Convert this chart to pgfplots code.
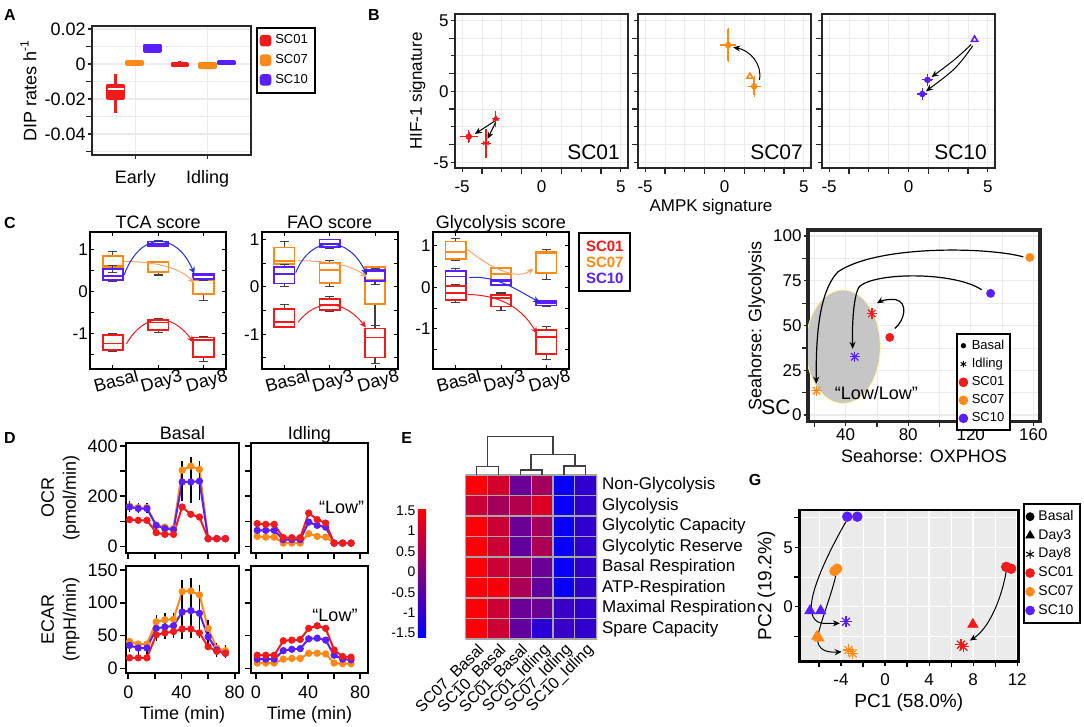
\documentclass[border=0pt]{standalone}
\usepackage{fontspec}
\setmainfont{Liberation Sans}
\usepackage{pgfplots}
\pgfplotsset{compat=1.18}
\usepgfplotslibrary{statistics}
\usetikzlibrary{arrows.meta}

\definecolor{cred}{HTML}{F21B1B}
\definecolor{corange}{HTML}{FF8A17}
\definecolor{cblue}{HTML}{5A1FFF}
\definecolor{gridgray}{HTML}{EBEBEB}
\definecolor{aorange}{HTML}{F5A477}
\definecolor{ablue}{HTML}{2030D8}

\tikzset{arr/.style={-{Stealth[length=3.5pt,width=3pt]}, line width=0.5pt}}

\pgfplotsset{
  every axis/.append style={
    scale only axis, anchor=north west,
    /pgf/number format/assume math mode=true,
    tick label style={font=\fontsize{8.5}{10}\selectfont, inner sep=1pt},
    label style={font=\fontsize{8.5}{10}\selectfont},
  },
  mk/.style={legend image code/.code={\draw[mark repeat=2, mark phase=2, ##1] plot coordinates {(0cm,0cm) (0.13cm,0cm) (0.26cm,0cm)};}},
  gg/.style={
    axis line style={black!85, line width=1pt},
    tick pos=left, tick align=outside, major tick length=2pt,
    tick style={black!85, line width=0.6pt},
    grid=both, major grid style={gridgray, line width=0.6pt},
    minor grid style={gridgray, line width=0.35pt},
  },
  bf/.style={gg, width=86.5pt, height=77pt,
    xmin=-5.45, xmax=5.45, ymin=-5.4, ymax=5.45,
    xtick={-5,-2.5,0,2.5,5}, xticklabels={-5,,0,,5}, minor xtick={-3.75,-1.25,1.25,3.75},
    ytick={-5,-2.5,0,2.5,5}, yticklabels={-5,,0,,5}, minor ytick={-3.75,-1.25,1.25,3.75},
    xticklabel style={yshift=-3pt},
  },
  ebxy/.style={error bars/.cd, x dir=both, x explicit, y dir=both, y explicit,
    error bar style={line width=0.7pt}, error mark options={line width=0.6pt, mark size=0.9pt}},
  ml/.style={
    width=68pt, height=68.5pt,
    axis line style={black, line width=1pt},
    tick align=inside, major tick length=2pt, minor tick length=2pt,
    tick style={black, line width=0.5pt},
    xmin=0.5, xmax=3.5, xtick={1,2,3}, xticklabels={Basal,Day3,Day8},
    xticklabel style={rotate=15, anchor=north, yshift=-1.5pt, font=\fontsize{9}{10}\selectfont},
    ytick={-1,0,1}, minor ytick={-1.5,-0.5,0.5},
    every axis title/.style={at={(0.5,1)}, anchor=base, yshift=2pt, font=\fontsize{9}{10}\selectfont},
    boxplot/draw direction=y,
    boxplot/box extend=0.45, boxplot/whisker extend=0.2,
    boxplot/every whisker/.style={black!75, line width=0.6pt},
  },
  gp/.style={
    axis line style={black, line width=1pt},
    tick pos=left, tick align=outside, major tick length=3pt,
    tick style={black, line width=0.8pt},
    xtick={0,20,40,60,80}, xticklabels={0,,40,,80},
    tick label style={font=\fontsize{9}{10}\selectfont},
    label style={font=\fontsize{9}{11}\selectfont},
    xticklabel style={yshift=-2pt},
    every axis title/.style={at={(0.5,1)}, anchor=base, yshift=1.8pt, font=\fontsize{9}{10}\selectfont},
    every axis plot/.append style={line width=1pt, mark=*, mark size=1.3pt},
  },
  eby/.style={error bars/.cd, y dir=both, y explicit, error bar style={black, line width=0.7pt}, error mark=none},
}

\newcommand{\abox}[8]{\addplot[forget plot, draw=#1, fill=#1, line width=1.4pt, line join=round,
  boxplot prepared={draw position=#2, lower whisker=#3, lower quartile=#4, median=#5, upper quartile=#6, upper whisker=#7},
  boxplot/every median/.style={#8}] coordinates {};}
\newcommand{\cbox}[7]{\addplot[forget plot, #1, line width=0.9pt,
  boxplot prepared={draw position=#2, lower whisker=#3, lower quartile=#4, median=#5, upper quartile=#6, upper whisker=#7}] coordinates {};}

\begin{document}
\fontsize{8.5}{10}\selectfont
\begin{tikzpicture}
\useasboundingbox (0,0) rectangle (542pt,-363.5pt);

% panel letters
\begin{scope}[every node/.style={font=\bfseries\fontsize{8}{9}\selectfont}]
\node at (5pt,-7.5pt) {A};
\node at (187pt,-7.5pt) {B};
\node at (5pt,-111.35pt) {C};
\node at (5pt,-219pt) {D};
\node at (203.35pt,-219.15pt) {E};
\node at (377.5pt,-240pt) {G};
\end{scope}

% ---------------- A
\begin{axis}[gg, at={(46pt,-13pt)}, width=79.5pt, height=64.5pt,
  xmin=0.4, xmax=2.6, ymin=-0.052, ymax=0.0217,
  xtick={1,2}, xticklabels={Early,Idling},
  ytick={-0.04,-0.02,0,0.02}, yticklabels={-0.04,-0.02,0,0.02},
  minor ytick={-0.05,-0.03,-0.01,0.01}, scaled y ticks=false,
  tick label style={font=\fontsize{9}{10}\selectfont},
  xticklabel style={yshift=-4.5pt},
  ylabel={DIP rates h\textsuperscript{-1}},
  label style={font=\fontsize{9}{10}\selectfont},
  legend style={at={(1.031,0.992)}, anchor=north west, draw=black, line width=0.8pt,
    font=\fontsize{6.5}{7}\selectfont, inner sep=1.5pt, row sep=0pt},
  legend cell align=left,
  boxplot/draw direction=y,
  boxplot/whisker extend=0, boxplot/box extend=0.22,
  boxplot/every whisker/.style={line width=1.6pt},
]
\abox{cred}{0.726}{-0.0278}{-0.0198}{-0.0141}{-0.0120}{-0.0057}{white, line width=1pt}
\abox{corange}{0.986}{-0.0008}{-0.0005}{0.0004}{0.0013}{0.0022}{}
\abox{cblue}{1.233}{0.0065}{0.0072}{0.0090}{0.0108}{0.0115}{}
\abox{cred}{1.616}{-0.0015}{-0.0012}{-0.0005}{0.0003}{0.0018}{}
\abox{corange}{2.0}{-0.0025}{-0.0018}{-0.0008}{0.0005}{0.0012}{}
\abox{cblue}{2.26}{-0.0002}{0.0}{0.0006}{0.0012}{0.0016}{}
\addlegendimage{legend image code/.code={\fill[cred, rounded corners=1.2pt] (0pt,-2.5pt) rectangle (5pt,2.5pt);}}
\addlegendentry{SC01}
\addlegendimage{legend image code/.code={\fill[corange, rounded corners=1.2pt] (0pt,-2.5pt) rectangle (5pt,2.5pt);}}
\addlegendentry{SC07}
\addlegendimage{legend image code/.code={\fill[cblue, rounded corners=1.2pt] (0pt,-2.5pt) rectangle (5pt,2.5pt);}}
\addlegendentry{SC10}
\end{axis}

% ---------------- B
\begin{axis}[bf, at={(227.5pt,-7pt)}, ylabel={HIF-1 signature}]
\addplot[cred, only marks, mark=*, mark size=1.4pt, ebxy] coordinates {(-4.58,-3.19) +- (0.45,0.35)};
\addplot[cred, only marks, mark=triangle*, mark size=1.6pt, ebxy] coordinates {(-2.88,-1.93) +- (0.15,0.44)};
\addplot[cred, only marks, mark=asterisk, mark size=1.8pt, ebxy] coordinates {(-3.5,-3.65) +- (0.2,0.9)};
\draw[arr] (axis cs:-2.95,-2.1) -- (axis cs:-4.2,-3.0);
\draw[arr] (axis cs:-2.9,-2.2) -- (axis cs:-3.4,-3.35);
\node[anchor=south east, font=\fontsize{10.5}{12}\selectfont, inner sep=0pt] at (rel axis cs:0.955,0.05) {SC01};
\end{axis}
\begin{axis}[bf, at={(319pt,-7pt)}, yticklabels={,,,,}]
\addplot[corange, only marks, mark=*, mark size=1.4pt, ebxy] coordinates {(0.23,3.26) +- (0.4,1.1)};
\addplot[corange, only marks, mark=triangle, mark size=1.7pt, line width=0.8pt] coordinates {(1.6,1.05)};
\addplot[corange, only marks, mark=*, mark size=1.4pt, ebxy] coordinates {(1.87,0.35) +- (0.3,0.6)};
\draw[arr] (axis cs:2.2,0.8) .. controls (axis cs:2.4,1.9) and (axis cs:1.6,2.9) .. (axis cs:0.55,3.1);
\node[anchor=south east, font=\fontsize{10.5}{12}\selectfont, inner sep=0pt] at (rel axis cs:0.955,0.05) {SC07};
\end{axis}
\begin{axis}[bf, at={(411pt,-7pt)}, yticklabels={,,,,}]
\addplot[cblue, only marks, mark=triangle, mark size=1.8pt, line width=0.8pt] coordinates {(4.16,3.65)};
\addplot[cblue, only marks, mark=*, mark size=1.4pt, ebxy] coordinates {(1.2,0.81) +- (0.25,0.3)};
\addplot[cblue, only marks, mark=*, mark size=1.4pt, ebxy] coordinates {(0.87,-0.19) +- (0.2,0.3)};
\draw[arr] (axis cs:3.95,3.3) .. controls (axis cs:3.0,2.3) .. (axis cs:1.45,1.0);
\draw[arr] (axis cs:4.05,3.2) .. controls (axis cs:3.0,1.6) .. (axis cs:1.1,0.0);
\node[anchor=south east, font=\fontsize{10.5}{12}\selectfont, inner sep=0pt] at (rel axis cs:0.955,0.05) {SC10};
\end{axis}
\node[font=\fontsize{8.5}{10}\selectfont] at (355.5pt,-103.5pt) {AMPK signature};

% ---------------- C
\begin{axis}[ml, at={(45.1pt,-116.15pt)}, ymin=-1.86, ymax=1.42, title={TCA score}]
\cbox{corange}{1}{0.46}{0.56}{0.62}{0.86}{0.96}
\cbox{cblue}{1}{0.24}{0.27}{0.37}{0.55}{0.62}
\cbox{cred}{1}{-1.44}{-1.40}{-1.24}{-1.04}{-1.00}
\cbox{corange}{2}{0.40}{0.46}{0.70}{0.72}{0.72}
\cbox{cblue}{2}{1.08}{1.10}{1.14}{1.20}{1.22}
\cbox{cred}{2}{-0.98}{-0.92}{-0.74}{-0.68}{-0.64}
\cbox{corange}{3}{-0.22}{-0.06}{0.28}{0.42}{0.42}
\cbox{cblue}{3}{0.26}{0.30}{0.40}{0.42}{0.43}
\cbox{cred}{3}{-1.68}{-1.57}{-1.16}{-1.10}{-1.08}
\draw[arr, aorange] (axis cs:1.25,0.72) .. controls (axis cs:2.0,0.72) and (axis cs:2.5,0.55) .. (axis cs:2.8,0.2);
\draw[arr, ablue] (axis cs:1.25,0.4) .. controls (axis cs:1.6,1.45) and (axis cs:2.4,1.45) .. (axis cs:2.8,0.42);
\draw[arr, cred] (axis cs:1.3,-1.25) .. controls (axis cs:1.7,-0.5) and (axis cs:2.3,-0.5) .. (axis cs:2.78,-1.22);
\end{axis}
\begin{axis}[ml, at={(130.85pt,-116.15pt)}, ymin=-1.74, ymax=1.15, title={FAO score}]
\cbox{corange}{1}{0.42}{0.48}{0.55}{0.83}{0.95}
\cbox{cblue}{1}{0.0}{0.07}{0.27}{0.41}{0.47}
\cbox{cred}{1}{-0.86}{-0.84}{-0.74}{-0.46}{-0.37}
\cbox{corange}{2}{0.01}{0.08}{0.36}{0.51}{0.56}
\cbox{cblue}{2}{0.81}{0.84}{0.91}{1.0}{1.0}
\cbox{cred}{2}{-0.51}{-0.49}{-0.39}{-0.26}{-0.20}
\cbox{corange}{3}{-0.81}{-0.37}{0.15}{0.42}{0.42}
\cbox{cblue}{3}{0.05}{0.12}{0.33}{0.35}{0.38}
\cbox{cred}{3}{-1.61}{-1.49}{-1.07}{-0.88}{-0.81}
\draw[arr, aorange] (axis cs:1.3,0.55) .. controls (axis cs:2.0,0.55) and (axis cs:2.5,0.45) .. (axis cs:2.82,0.2);
\draw[arr, ablue] (axis cs:1.25,0.3) .. controls (axis cs:1.6,1.1) and (axis cs:2.4,1.1) .. (axis cs:2.82,0.25);
\draw[arr, cred] (axis cs:1.3,-0.75) .. controls (axis cs:1.7,-0.25) and (axis cs:2.3,-0.25) .. (axis cs:2.8,-0.86);
\end{axis}
\begin{axis}[ml, at={(216.5pt,-116.15pt)}, ymin=-1.97, ymax=1.32, title={Glycolysis score}]
\cbox{corange}{1}{0.64}{0.68}{0.84}{1.10}{1.18}
\cbox{cblue}{1}{0.02}{0.04}{0.26}{0.40}{0.46}
\cbox{cred}{1}{-0.36}{-0.30}{-0.13}{0.03}{0.07}
\cbox{corange}{2}{0.18}{0.18}{0.31}{0.46}{0.48}
\cbox{cblue}{2}{0.06}{0.06}{0.14}{0.18}{0.18}
\cbox{cred}{2}{-0.56}{-0.46}{-0.26}{-0.18}{-0.14}
\cbox{corange}{3}{0.19}{0.34}{0.82}{0.86}{0.90}
\cbox{cblue}{3}{-0.46}{-0.44}{-0.38}{-0.33}{-0.32}
\cbox{cred}{3}{-1.74}{-1.61}{-1.20}{-1.02}{-0.94}
\draw[arr, aorange] (axis cs:1.27,0.9) .. controls (axis cs:1.9,0.35) and (axis cs:2.4,0.2) .. (axis cs:2.72,0.45);
\draw[arr, ablue] (axis cs:1.3,0.23) .. controls (axis cs:1.9,0.3) and (axis cs:2.4,-0.1) .. (axis cs:2.86,-0.36);
\draw[arr, cred] (axis cs:1.27,-0.17) .. controls (axis cs:1.9,-0.2) and (axis cs:2.4,-0.4) .. (axis cs:2.8,-1.12);
\end{axis}
\node[draw=black, line width=1pt, anchor=north west, minimum width=25.5pt, minimum height=28.85pt,
  align=center, font=\bfseries\fontsize{7.5}{8}\selectfont, inner sep=1pt] at (289.15pt,-116.15pt)
  {\textcolor{cred}{SC01}\\\textcolor{corange}{SC07}\\\textcolor{cblue}{SC10}};

% ---------------- D
\begin{axis}[gp, at={(63pt,-221.65pt)}, width=56.5pt, height=54.7pt,
  xmin=-1.7, xmax=83.2, ymin=-25, ymax=411, xticklabels={,,,,},
  ytick={0,100,200,300,400}, yticklabels={0,,200,,400},
  ylabel={OCR\\(pmol/min)}, ylabel style={align=center}, title={Basal}]
\addplot[corange, eby] coordinates {(1,160) +- (0,20) (7.5,155) +- (0,18) (14,155) +- (0,18) (21,84) +- (0,10) (27.5,77) +- (0,10) (34,71) +- (0,8) (40.5,304) +- (0,35) (47,320) +- (0,35) (53.5,307) +- (0,35) (60,31) +- (0,3) (66.5,31) +- (0,3) (73,31) +- (0,3)};
\addplot[cblue, eby] coordinates {(1,157) +- (0,20) (7.5,151) +- (0,18) (14,151) +- (0,18) (21,84) +- (0,10) (27.5,71) +- (0,10) (34,67) +- (0,8) (40.5,257) +- (0,75) (47,257) +- (0,85) (53.5,260) +- (0,75) (60,31) +- (0,3) (66.5,31) +- (0,3) (73,31) +- (0,3)};
\addplot[cred, eby] coordinates {(1,107) +- (0,6) (7.5,104) +- (0,5) (14,104) +- (0,5) (21,55) +- (0,5) (27.5,48) +- (0,4) (34,48) +- (0,4) (40.5,157) +- (0,8) (47,128) +- (0,6) (53.5,117) +- (0,6) (60,31) +- (0,3) (66.5,31) +- (0,3) (73,31) +- (0,3)};
\end{axis}
\begin{axis}[gp, at={(125.5pt,-221.65pt)}, width=58.5pt, height=54.7pt,
  xmin=-3.8, xmax=86, ymin=-25, ymax=411, xticklabels={,,,,},
  ytick={0,100,200,300,400}, yticklabels={,,,,}, title={Idling}]
\addplot[corange, eby] coordinates {(1,40) +- (0,3) (7.5,37) +- (0,3) (14,37) +- (0,3) (21,13) +- (0,3) (27.5,13) +- (0,3) (34,13) +- (0,3) (40.5,51) +- (0,4) (47,40) +- (0,3) (53.5,37) +- (0,3) (60,14) +- (0,3) (66.5,14) +- (0,3) (73,14) +- (0,3)};
\addplot[cblue, eby] coordinates {(1,64) +- (0,4) (7.5,64) +- (0,4) (14,64) +- (0,4) (21,27) +- (0,3) (27.5,27) +- (0,3) (34,27) +- (0,3) (40.5,97) +- (0,5) (47,84) +- (0,5) (53.5,77) +- (0,5) (60,13) +- (0,3) (66.5,13) +- (0,3) (73,13) +- (0,3)};
\addplot[cred, eby] coordinates {(1,91) +- (0,5) (7.5,88) +- (0,5) (14,88) +- (0,5) (21,35) +- (0,4) (27.5,35) +- (0,4) (34,35) +- (0,4) (40.5,133) +- (0,6) (47,107) +- (0,6) (53.5,93) +- (0,6) (60,13) +- (0,3) (66.5,13) +- (0,3) (73,13) +- (0,3)};
\end{axis}
\begin{axis}[gp, at={(63pt,-282.85pt)}, width=56.5pt, height=53.8pt,
  xmin=-1.7, xmax=83.2, ymin=-7.6, ymax=156.6, ytick={0,50,100,150},
  ylabel={ECAR\\(mpH/min)}, ylabel style={align=center}, xlabel={Time (min)}]
\addplot[corange, eby] coordinates {(1,41) +- (0,5) (7.5,37) +- (0,5) (14,37) +- (0,5) (21,71) +- (0,10) (27.5,74) +- (0,10) (34,75) +- (0,10) (40.5,117) +- (0,18) (47,118) +- (0,20) (53.5,112) +- (0,15) (60,61) +- (0,12) (66.5,31) +- (0,8) (73,27) +- (0,8)};
\addplot[cblue, eby] coordinates {(1,35) +- (0,10) (7.5,31) +- (0,10) (14,31) +- (0,10) (21,61) +- (0,19) (27.5,63) +- (0,19) (34,65) +- (0,19) (40.5,86) +- (0,42) (47,88) +- (0,42) (53.5,84) +- (0,38) (60,48) +- (0,18) (66.5,28) +- (0,10) (73,23) +- (0,8)};
\addplot[cred, eby] coordinates {(1,16) +- (0,3) (7.5,16) +- (0,3) (14,16) +- (0,3) (21,51) +- (0,3) (27.5,54) +- (0,3) (34,56) +- (0,3) (40.5,60) +- (0,3) (47,60) +- (0,3) (53.5,54) +- (0,3) (60,33) +- (0,3) (66.5,26) +- (0,3) (73,23) +- (0,3)};
\end{axis}
\begin{axis}[gp, at={(125.5pt,-282.85pt)}, width=58.5pt, height=53.8pt,
  xmin=-3.8, xmax=86, ymin=-7.6, ymax=156.6, ytick={0,50,100,150}, yticklabels={,,,},
  xlabel={Time (min)}]
\addplot[corange, eby] coordinates {(1,8) +- (0,2.5) (7.5,8) +- (0,2.5) (14,8) +- (0,2.5) (21,14) +- (0,2.5) (27.5,15) +- (0,2.5) (34,15) +- (0,2.5) (40.5,23) +- (0,2.5) (47,23) +- (0,2.5) (53.5,22) +- (0,2.5) (60,8) +- (0,2.5) (66.5,7) +- (0,2.5) (73,7) +- (0,2.5)};
\addplot[cblue, eby] coordinates {(1,14) +- (0,2.5) (7.5,14) +- (0,2.5) (14,14) +- (0,2.5) (21,27) +- (0,2.5) (27.5,29) +- (0,2.5) (34,30) +- (0,2.5) (40.5,45) +- (0,2.5) (47,46) +- (0,2.5) (53.5,43) +- (0,2.5) (60,20) +- (0,2.5) (66.5,14) +- (0,2.5) (73,13) +- (0,2.5)};
\addplot[cred, eby] coordinates {(1,20) +- (0,2.5) (7.5,20) +- (0,2.5) (14,20) +- (0,2.5) (21,42) +- (0,2.5) (27.5,43) +- (0,2.5) (34,44) +- (0,2.5) (40.5,61) +- (0,2.5) (47,65) +- (0,2.5) (53.5,61) +- (0,2.5) (60,28) +- (0,2.5) (66.5,18) +- (0,2.5) (73,17) +- (0,2.5)};
\end{axis}
\node[font=\fontsize{9}{10}\selectfont] at (170.85pt,-253.65pt) {“Low”};
\node[font=\fontsize{9}{10}\selectfont] at (167.5pt,-307.5pt) {“Low”};

% ---------------- E
\begin{axis}[at={(232.85pt,-237.5pt)}, width=65.5pt, height=82pt,
  xmin=0.5, xmax=6.5, ymin=0.5, ymax=8.5, clip=false,
  axis line style={draw=none}, major tick length=0pt,
  xtick={1,2,3,4,5,6},
  xticklabels={SC07\_Basal,SC10\_Basal,SC01\_Basal,SC01\_Idling,SC07\_Idling,SC10\_Idling},
  xticklabel style={rotate=45, anchor=north east, font=\fontsize{8}{9}\selectfont},
  ytick={1,2,3,4,5,6,7,8},
  yticklabels={Spare Capacity,Maximal Respiration,ATP-Respiration,Basal Respiration,Glycolytic Reserve,Glycolytic Capacity,Glycolysis,Non-Glycolysis},
  yticklabel pos=right, yticklabel style={anchor=west, xshift=1.5pt, font=\fontsize{8.5}{10}\selectfont},
  colormap={br}{rgb255=(0,0,255) rgb255=(255,0,0)},
  point meta min=-1.6, point meta max=1.56,
  colorbar left,
  colorbar style={at={(parent axis.north west)}, anchor=north east, xshift=-11.2pt, yshift=-16.65pt,
    width=4.15pt, height=64.5pt, scale only axis,
    ytick={-1.5,-1,-0.5,0,0.5,1,1.5}, yticklabels={-1.5,-1,-0.5,0,0.5,1,1.5},
    yticklabel pos=left, yticklabel style={font=\fontsize{7}{8}\selectfont, anchor=east},
    axis line style={draw=none}, major tick length=0pt, xtick=\empty},
]
\addplot[matrix plot*, mesh/cols=6, point meta=explicit] table[meta=c] {
x y c
1 1 1.5
2 1 0.9
3 1 -0.4
4 1 -1.1
5 1 -0.9
6 1 -1.0
1 2 1.5
2 2 0.9
3 2 -0.3
4 2 -0.3
5 2 -0.9
6 2 -1.0
1 3 1.5
2 3 1.4
3 3 0.5
4 3 -0.4
5 3 -1.5
6 3 -1.0
1 4 1.5
2 4 0.9
3 4 0.4
4 4 -0.3
5 4 -1.5
6 4 -1.0
1 5 1.5
2 5 0.9
3 5 -0.4
4 5 0.5
5 5 -1.5
6 5 -1.0
1 6 1.5
2 6 0.9
3 6 -0.3
4 6 0.4
5 6 -1.5
6 6 -1.0
1 7 0.9
2 7 0.4
3 7 0.6
4 7 1.1
5 7 -1.5
6 7 -1.0
1 8 1.5
2 8 1.0
3 8 -0.3
4 8 0.4
5 8 -1.5
6 8 -1.0
};
\addplot[gray!70, line width=0.6pt, unbounded coords=jump] coordinates {
(0.5,0.5) (0.5,8.5) (nan,nan) (1.5,0.5) (1.5,8.5) (nan,nan) (2.5,0.5) (2.5,8.5) (nan,nan)
(3.5,0.5) (3.5,8.5) (nan,nan) (4.5,0.5) (4.5,8.5) (nan,nan) (5.5,0.5) (5.5,8.5) (nan,nan)
(6.5,0.5) (6.5,8.5) (nan,nan)
(0.5,0.5) (6.5,0.5) (nan,nan) (0.5,1.5) (6.5,1.5) (nan,nan) (0.5,2.5) (6.5,2.5) (nan,nan)
(0.5,3.5) (6.5,3.5) (nan,nan) (0.5,4.5) (6.5,4.5) (nan,nan) (0.5,5.5) (6.5,5.5) (nan,nan)
(0.5,6.5) (6.5,6.5) (nan,nan) (0.5,7.5) (6.5,7.5) (nan,nan) (0.5,8.5) (6.5,8.5)};
\addplot[black!75, line width=0.7pt, unbounded coords=jump] coordinates {
(1,8.5) (1,8.9) (2,8.9) (2,8.5) (nan,nan)
(3,8.5) (3,8.74) (4,8.74) (4,8.5) (nan,nan)
(5,8.5) (5,8.94) (6,8.94) (6,8.5) (nan,nan)
(3.5,8.74) (3.5,9.51) (5.5,9.51) (5.5,8.94) (nan,nan)
(1.5,8.9) (1.5,10.37) (4.5,10.37) (4.5,9.51)};
\end{axis}

% ---------------- F
\node[font=\fontsize{10.5}{12}\selectfont] at (388pt,-203.5pt) {SC};
\begin{axis}[gg, at={(404pt,-115pt)}, width=116pt, height=95.85pt,
  axis line style={black!85, line width=1.6pt},
  xmin=15.9, xmax=164.3, ymin=-3.7, ymax=103.4,
  xtick={40,80,120,160}, minor xtick={20,60,100,140},
  ytick={0,25,50,75,100}, minor ytick={12.5,37.5,62.5,87.5},
  xticklabel style={yshift=-0.5pt},
  xlabel={Seahorse: OXPHOS}, ylabel={Seahorse: Glycolysis},
  label style={font=\fontsize{9}{10}\selectfont},
  legend style={at={(0.638,0.464)}, anchor=north west, draw=black, line width=1pt,
    font=\fontsize{6.5}{7.5}\selectfont, inner sep=1pt, row sep=-0.8pt},
  legend cell align=left,
]
\fill[gray!45, draw=yellow!40!white, line width=0.4pt] (axis cs:38.3,38.2) ellipse [x radius=18.65pt, y radius=28.35pt];
\node[font=\fontsize{9}{10}\selectfont] at (axis cs:59.6,12.1) {“Low/Low”};
\addplot[forget plot, only marks, mark=*, mark size=2pt, cred] coordinates {(68.2,43.4)};
\addplot[forget plot, only marks, mark=*, mark size=2pt, corange] coordinates {(157.8,88.1)};
\addplot[forget plot, only marks, mark=*, mark size=2pt, cblue] coordinates {(132.7,68)};
\addplot[forget plot, only marks, mark=+, mark size=2.6pt, line width=0.6pt, cred] coordinates {(56.8,56.8)};
\addplot[forget plot, only marks, mark=x, mark size=2.6pt, line width=0.6pt, cred] coordinates {(56.8,56.8)};
\addplot[forget plot, only marks, mark=+, mark size=2.6pt, line width=0.6pt, cblue] coordinates {(45.8,32.6)};
\addplot[forget plot, only marks, mark=x, mark size=2.6pt, line width=0.6pt, cblue] coordinates {(45.8,32.6)};
\addplot[forget plot, only marks, mark=+, mark size=2.6pt, line width=0.6pt, corange] coordinates {(21.3,13.6)};
\addplot[forget plot, only marks, mark=x, mark size=2.6pt, line width=0.6pt, corange] coordinates {(21.3,13.6)};
\draw[arr, line width=0.6pt] (axis cs:153.6,88.4) .. controls (axis cs:130,94) and (axis cs:60,95) .. (axis cs:35,80) .. controls (axis cs:22,68) and (axis cs:21,40) .. (axis cs:21.2,17.5);
\draw[arr, line width=0.6pt] (axis cs:127,70) .. controls (axis cs:110,80) and (axis cs:60,80) .. (axis cs:49,72) .. controls (axis cs:45,68) and (axis cs:44,50) .. (axis cs:44.5,37);
\draw[arr, line width=0.6pt] (axis cs:71.4,48.4) .. controls (axis cs:78,53) and (axis cs:80,63) .. (axis cs:72,64.5) .. controls (axis cs:66,65) and (axis cs:62,63.5) .. (axis cs:60,62.5);
\addlegendimage{mk, only marks, mark=*, mark size=1.1pt, black, line width=0.4pt}
\addlegendentry{Basal}
\addlegendimage{mk, only marks, mark=asterisk, mark size=1.6pt, black, line width=0.5pt}
\addlegendentry{Idling}
\addlegendimage{mk, only marks, mark=*, mark size=2.2pt, cred, line width=0.4pt}
\addlegendentry{SC01}
\addlegendimage{mk, only marks, mark=*, mark size=2.2pt, corange, line width=0.4pt}
\addlegendentry{SC07}
\addlegendimage{mk, only marks, mark=*, mark size=2.2pt, cblue, line width=0.4pt}
\addlegendentry{SC10}
\end{axis}

% ---------------- G
\begin{axis}[at={(399.65pt,-255pt)}, width=109.5pt, height=75.85pt,
  axis background/.style={fill=gridgray},
  axis line style={black, line width=1.2pt},
  tick pos=left, tick align=outside, major tick length=2pt, tick style={black, line width=0.6pt},
  grid=both, major grid style={white, line width=0.8pt}, minor grid style={white, line width=0.4pt},
  xmin=-7.79, xmax=12.1, ymin=-4.63, ymax=8.14,
  xtick={-4,0,4,8,12}, minor xtick={-6,-2,2,6,10},
  ytick={0,5}, minor ytick={-2.5,2.5,7.5},
  xticklabel style={yshift=-3pt},
  xlabel={PC1 (58.0\%)}, ylabel={PC2 (19.2\%)},
  label style={font=\fontsize{9.5}{11}\selectfont},
  legend style={at={(1.02,1.044)}, anchor=north west, draw=black, line width=1pt,
    font=\fontsize{7}{7.5}\selectfont, inner sep=1pt, row sep=-0.8pt},
  legend cell align=left,
]
\addplot[forget plot, only marks, mark=*, mark size=2.4pt, cblue] coordinates {(-3.43,7.58) (-2.52,7.58)};
\addplot[forget plot, only marks, mark=*, mark size=2.4pt, corange] coordinates {(-4.6,3.0) (-4.35,3.2)};
\addplot[forget plot, only marks, mark=*, mark size=2.4pt, cred] coordinates {(11.0,3.35) (11.45,3.2)};
\addplot[forget plot, only marks, mark=triangle*, mark size=2.9pt, cblue] coordinates {(-6.82,-0.34) (-5.85,-0.34)};
\addplot[forget plot, only marks, mark=triangle*, mark size=2.9pt, corange] coordinates {(-6.2,-2.5) (-6.0,-2.65)};
\addplot[forget plot, only marks, mark=triangle*, mark size=2.9pt, cred] coordinates {(7.97,-1.49)};
\addplot[forget plot, only marks, mark=+, mark size=2.8pt, line width=0.6pt, cblue] coordinates {(-3.55,-1.26)};
\addplot[forget plot, only marks, mark=x, mark size=2.8pt, line width=0.6pt, cblue] coordinates {(-3.55,-1.26)};
\addplot[forget plot, only marks, mark=+, mark size=2.8pt, line width=0.6pt, corange] coordinates {(-3.33,-3.65) (-2.94,-3.93)};
\addplot[forget plot, only marks, mark=x, mark size=2.8pt, line width=0.6pt, corange] coordinates {(-3.33,-3.65) (-2.94,-3.93)};
\addplot[forget plot, only marks, mark=+, mark size=2.8pt, line width=0.6pt, cred] coordinates {(7.12,-3.37) (6.9,-3.2)};
\addplot[forget plot, only marks, mark=x, mark size=2.8pt, line width=0.6pt, cred] coordinates {(7.12,-3.37) (6.9,-3.2)};
\draw[arr] (axis cs:-3.55,7.16) .. controls (axis cs:-5.2,4.5) and (axis cs:-7.0,1.0) .. (axis cs:-6.67,-0.5) .. controls (axis cs:-6.4,-1.6) and (axis cs:-5.5,-1.4) .. (axis cs:-4.1,-1.4);
\draw[arr] (axis cs:-4.48,2.6) .. controls (axis cs:-5.0,0.5) and (axis cs:-6.3,-2.2) .. (axis cs:-6.1,-3.0) .. controls (axis cs:-5.9,-3.8) and (axis cs:-5.0,-3.85) .. (axis cs:-3.94,-3.8);
\draw[arr] (axis cs:11,2.95) .. controls (axis cs:10.6,0.8) and (axis cs:9.5,-1.8) .. (axis cs:7.7,-2.85);
\addlegendimage{mk, only marks, mark=*, mark size=2pt, black, line width=0.4pt}
\addlegendentry{Basal}
\addlegendimage{mk, only marks, mark=triangle*, mark size=2.4pt, black, line width=0.4pt}
\addlegendentry{Day3}
\addlegendimage{mk, only marks, mark=asterisk, mark size=2.2pt, black, line width=0.5pt}
\addlegendentry{Day8}
\addlegendimage{mk, only marks, mark=*, mark size=2.2pt, cred, line width=0.4pt}
\addlegendentry{SC01}
\addlegendimage{mk, only marks, mark=*, mark size=2.2pt, corange, line width=0.4pt}
\addlegendentry{SC07}
\addlegendimage{mk, only marks, mark=*, mark size=2.2pt, cblue, line width=0.4pt}
\addlegendentry{SC10}
\end{axis}
\end{tikzpicture}
\end{document}
